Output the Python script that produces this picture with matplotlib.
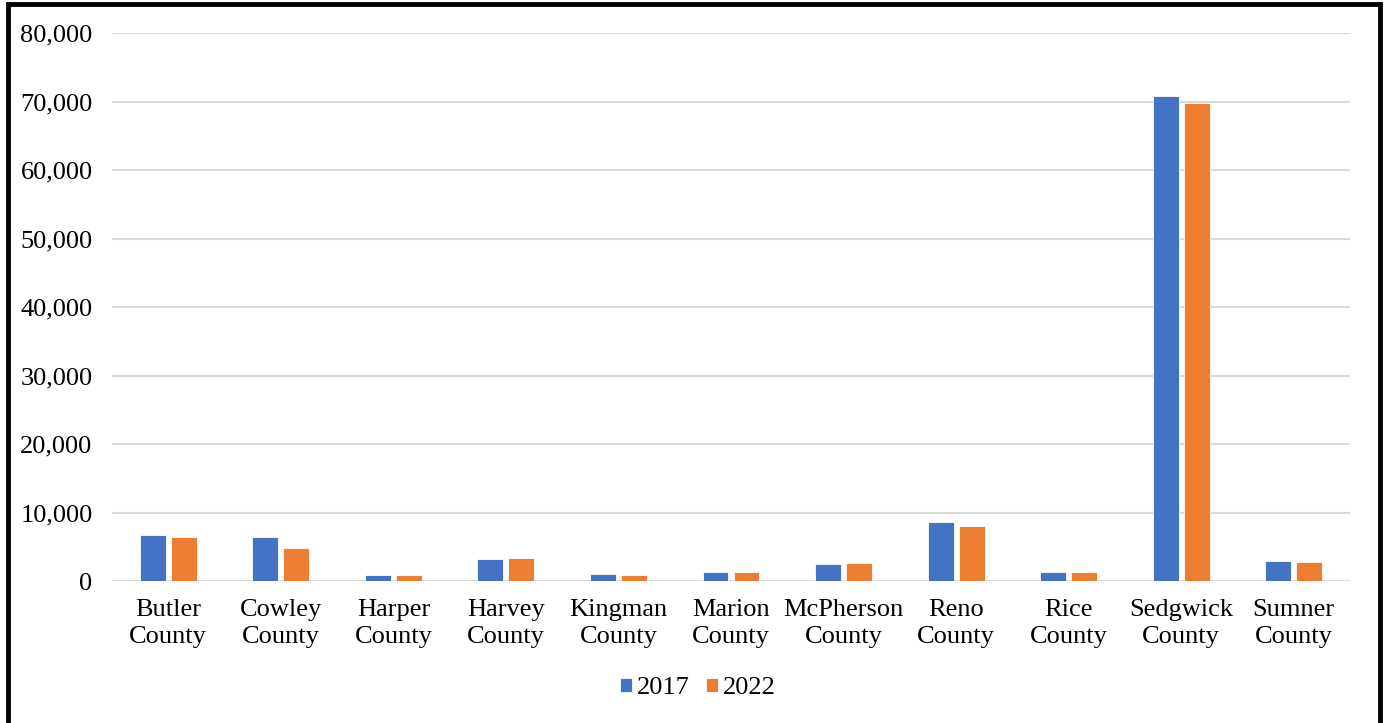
import matplotlib.pyplot as plt
from matplotlib.patches import Rectangle
from matplotlib.ticker import FuncFormatter

# values
counties = ["Butler\nCounty", "Cowley\nCounty", "Harper\nCounty", "Harvey\nCounty",
            "Kingman\nCounty", "Marion\nCounty", "McPherson\nCounty", "Reno\nCounty",
            "Rice\nCounty", "Sedgwick\nCounty", "Sumner\nCounty"]
values_2017 = [6650, 6400, 850, 3150, 950, 1380, 2500, 8650, 1250, 70800, 2850]
values_2022 = [6450, 4750, 900, 3300, 820, 1250, 2650, 8100, 1250, 69750, 2800]
years = ["2017", "2022"]

blue = "#4472C4"
orange = "#ED7D31"

plt.rcParams["font.family"] = ["Liberation Serif", "DejaVu Serif"]

fig = plt.figure(figsize=(13.86, 7.23), dpi=100)
ax = fig.add_axes([112 / 1386, 1 - 581 / 723, 1238 / 1386, 548 / 723])

x = list(range(len(counties)))
w = 0.23
off = 0.138
ax.bar([i - off for i in x], values_2017, width=w, color=blue,
       edgecolor="white", linewidth=0.6, label=years[0], zorder=3)
ax.bar([i + off for i in x], values_2022, width=w, color=orange,
       edgecolor="white", linewidth=0.6, label=years[1], zorder=3)

ax.set_xlim(-0.5, len(counties) - 0.5)
ax.set_ylim(0, 80000)
ax.set_yticks(range(0, 80001, 10000))
ax.yaxis.set_major_formatter(FuncFormatter(lambda v, p: f"{int(v):,}"))
ax.set_xticks(x)
ax.set_xticklabels(counties, fontsize=19, linespacing=1.32)
ax.tick_params(axis="y", labelsize=19, length=0, pad=14)
ax.tick_params(axis="x", length=0, pad=13)
ax.grid(axis="y", color="#d9d9d9", linewidth=1.5, zorder=0)
ax.axhline(0, color="#d9d9d9", linewidth=2.2, zorder=1)
for s in ax.spines.values():
    s.set_visible(False)

ax.legend(loc="center", bbox_to_anchor=(698 / 1386, 1 - 688 / 723),
          bbox_transform=fig.transFigure, ncol=2, frameon=False, fontsize=19,
          handlelength=0.45, handleheight=0.45, handletextpad=0.2, columnspacing=0.6)

# black frame around the chart
fig.patches.append(Rectangle((8 / 1386, -0.05), 1372 / 1386, 1.05 - 4.5 / 723,
                             transform=fig.transFigure, fill=False,
                             edgecolor="black", linewidth=3.5))

fig.savefig("out.png", dpi=100)
